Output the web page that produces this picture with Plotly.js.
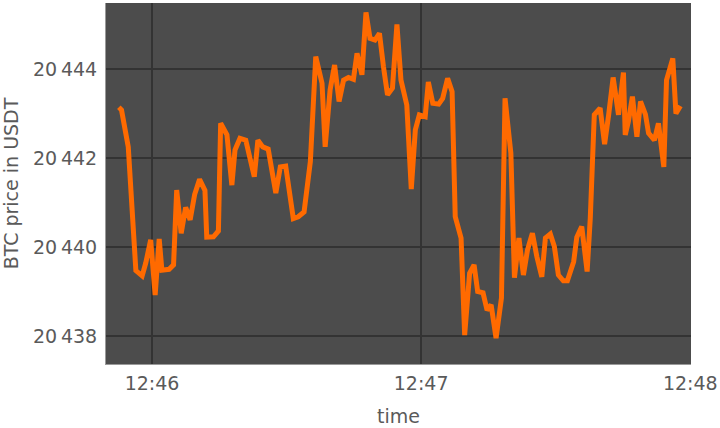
<!DOCTYPE html>
<html>
<head>
<meta charset="utf-8">
<script src="https://cdn.plot.ly/plotly-3.0.1.min.js"></script>
<style>html,body{margin:0;padding:0;background:#fff;}#chart{width:720px;height:428px;}</style>
</head>
<body>
<div id="chart"></div>
<script>
const day = '2022-11-20 ';
const times = [
'12:45:52.6','12:45:53.2','12:45:54.7','12:45:56.4','12:45:57.8','12:45:58.6','12:45:59.7',
'12:46:00.7','12:46:01.6','12:46:02.2','12:46:03.8','12:46:04.8','12:46:05.5','12:46:06.5','12:46:07.5','12:46:08.5','12:46:09.5',
'12:46:10.6','12:46:11.8','12:46:12.2','12:46:13.7','12:46:14.8','12:46:15.3','12:46:16.7','12:46:17.8','12:46:18.5','12:46:19.6',
'12:46:20.9','12:46:22.8','12:46:23.6','12:46:24.7','12:46:25.9','12:46:27.6','12:46:28.6','12:46:29.8','12:46:31.5','12:46:32.6',
'12:46:33.9','12:46:35.3','12:46:36.5','12:46:37.9','12:46:38.6','12:46:39.7','12:46:40.7','12:46:41.7','12:46:42.7','12:46:43.8',
'12:46:44.9','12:46:45.7','12:46:46.8','12:46:47.7','12:46:48.6','12:46:49.7','12:46:50.7','12:46:51.6','12:46:52.5','12:46:53.6',
'12:46:54.6','12:46:55.5','12:46:56.8','12:46:57.8','12:46:58.7','12:46:59.6','12:47:00.9','12:47:01.6','12:47:02.6','12:47:03.9',
'12:47:04.8','12:47:05.9','12:47:06.9','12:47:07.6','12:47:08.9','12:47:09.7','12:47:10.8','12:47:11.8','12:47:12.6','12:47:13.8',
'12:47:14.7','12:47:15.6','12:47:16.7','12:47:17.9','12:47:18.7','12:47:20.0','12:47:20.8','12:47:21.8','12:47:22.8','12:47:23.7',
'12:47:24.8','12:47:25.8','12:47:26.9','12:47:27.7','12:47:28.8','12:47:29.7','12:47:30.6','12:47:31.7','12:47:32.6','12:47:34.0',
'12:47:34.7','12:47:35.8','12:47:37.0','12:47:37.7','12:47:38.6','12:47:39.9','12:47:40.9','12:47:41.8','12:47:42.8','12:47:44.0',
'12:47:45.1','12:47:45.5','12:47:46.2','12:47:47.1','12:47:48.1','12:47:48.9','12:47:50.0','12:47:50.7','12:47:52.0','12:47:52.9',
'12:47:54.1','12:47:54.7','12:47:56.1','12:47:56.8','12:47:57.8'
];
const prices = [
20443.14,20443.08,20442.25,20439.47,20439.35,20439.64,20440.16,
20438.92,20440.18,20439.48,20439.50,20439.60,20441.28,20440.31,20440.89,20440.61,20441.18,
20441.52,20441.27,20440.22,20440.23,20440.36,20442.78,20442.52,20441.39,20442.18,20442.44,
20442.40,20441.58,20442.40,20442.25,20442.20,20441.21,20441.80,20441.82,20440.64,20440.68,
20440.79,20441.92,20444.28,20443.68,20442.25,20443.53,20444.09,20443.27,20443.75,20443.81,
20443.77,20444.35,20443.87,20445.27,20444.69,20444.65,20444.80,20444.05,20443.42,20443.57,
20445.00,20443.75,20443.19,20441.30,20442.63,20442.97,20442.93,20443.71,20443.23,20443.21,
20443.34,20443.79,20443.49,20440.68,20440.20,20438.02,20439.41,20439.60,20439.00,20438.97,
20438.58,20438.70,20437.95,20438.85,20443.34,20442.11,20439.31,20440.20,20439.37,20439.93,
20440.31,20439.78,20439.33,20440.20,20440.29,20440.01,20439.37,20439.24,20439.24,20439.67,
20440.22,20440.46,20439.45,20440.64,20442.97,20443.12,20442.31,20442.97,20443.81,20442.97,
20443.92,20442.52,20442.82,20443.38,20442.48,20443.27,20442.98,20442.56,20442.40,20442.78,
20441.80,20443.75,20444.24,20443.00,20443.17
];
const xTitle = 'time';
const yTitle = 'BTC price in USDT';

const x = times.map(t => day + t);
const font = {family: 'DejaVu Sans, sans-serif', size: 19, color: '#5a5a5a'};
Plotly.newPlot('chart', [{
  x: x, y: prices, type: 'scatter', mode: 'lines',
  line: {color: '#ff6a00', width: 5}, hoverinfo: 'skip'
}], {
  width: 720, height: 428,
  margin: {l: 106, r: 29, t: 3, b: 64},
  paper_bgcolor: '#ffffff', plot_bgcolor: '#4c4c4c',
  font: font,
  separators: '.\u2009',
  showlegend: false,
  xaxis: {
    type: 'date',
    range: [day + '12:45:49.74', day + '12:48:00.16'],
    dtick: 60000, tick0: day + '12:46:00', tickformat: '%H:%M',
    showgrid: true, gridcolor: '#333333', gridwidth: 1.5,
    showline: true, linecolor: '#9a9a9a', linewidth: 1,
    zeroline: false, ticks: '', ticklabelstandoff: 2,
    tickfont: font,
    title: {text: xTitle, font: font, standoff: 16}
  },
  yaxis: {
    range: [20437.371, 20445.483],
    dtick: 2, tick0: 20438, tickformat: ',d',
    showgrid: true, gridcolor: '#333333', gridwidth: 1.5,
    showline: true, linecolor: '#9a9a9a', linewidth: 1,
    zeroline: false, ticks: '', ticklabelstandoff: 4,
    tickfont: font,
    title: {text: yTitle, font: font, standoff: 10}
  }
}, {staticPlot: true});
</script>
</body>
</html>
